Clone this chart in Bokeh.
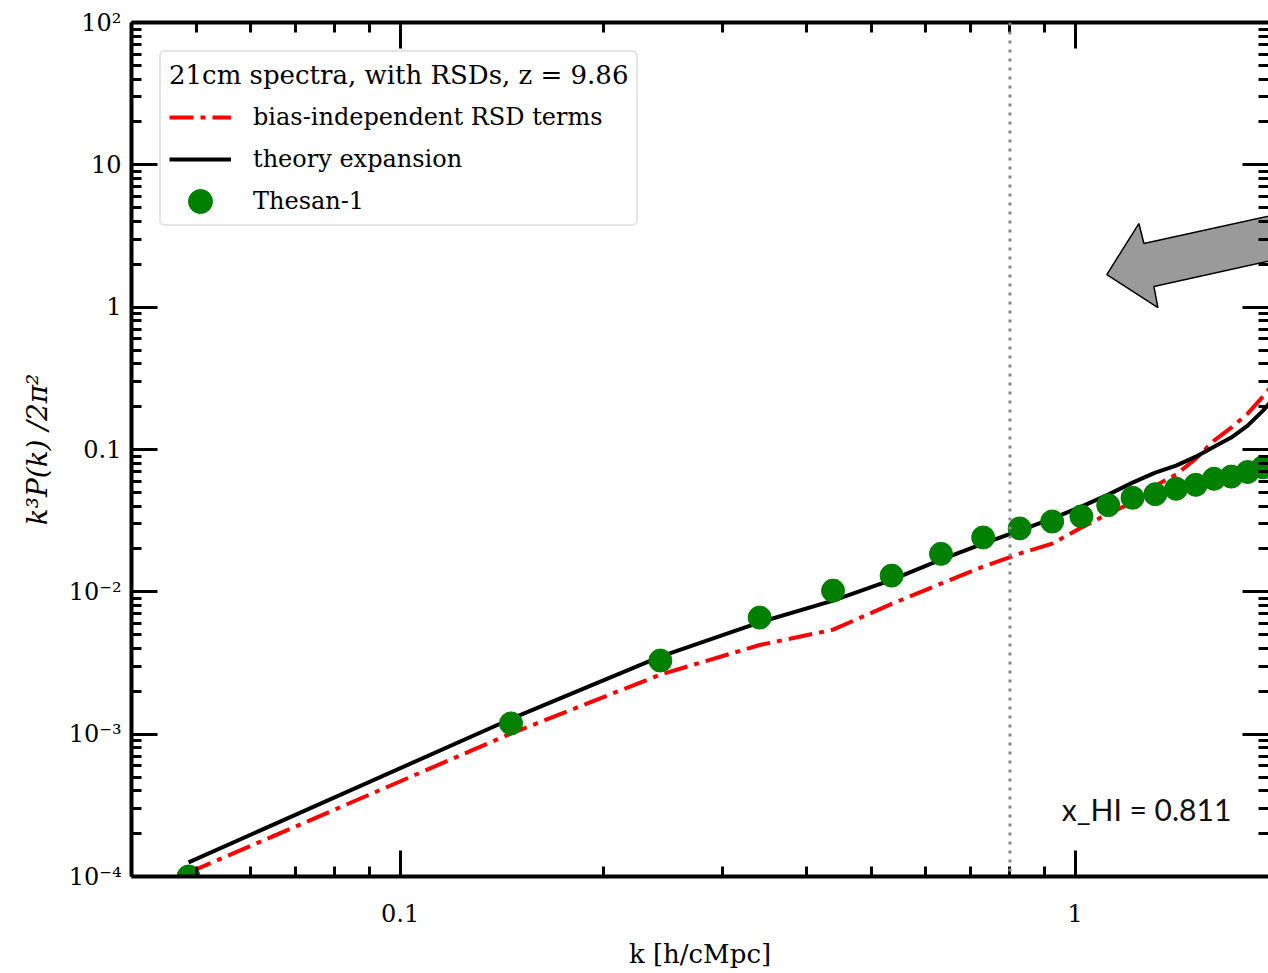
import math
from bokeh.plotting import figure
from bokeh.models import (FixedTicker, CustomJSTickFormatter, LogAxis, Legend,
                          LegendItem, Label, Span, Range1d)
from bokeh.embed import file_html
from bokeh.resources import INLINE

# ---------------- data ----------------
k_bins = [0.0486, 0.146, 0.243, 0.341, 0.438, 0.535, 0.633, 0.731, 0.828, 0.925,
          1.022, 1.12, 1.217, 1.315, 1.412, 1.51, 1.607, 1.704, 1.802, 1.899]
thesan = [1.0e-4, 1.19e-3, 3.29e-3, 6.59e-3, 0.0102, 0.0130, 0.0185, 0.0241, 0.0279,
          0.0312, 0.0339, 0.0406, 0.0458, 0.0485, 0.0530, 0.0565, 0.0623, 0.0645,
          0.0695, 0.0750]

k_theory = k_bins + [1.997]
theory = [1.256e-4, 1.28e-3, 3.51e-3, 6.11e-3, 8.67e-3, 0.01213, 0.01683, 0.02183,
          0.02692, 0.0327, 0.0397, 0.0482, 0.0585, 0.0688, 0.0771, 0.0891, 0.1047,
          0.1213, 0.147, 0.1876, 0.247]
rsd_terms = [1.064e-4, 1.01e-3, 2.62e-3, 4.23e-3, 5.42e-3, 8.22e-3, 0.01142, 0.01503,
             0.01855, 0.0218, 0.02826, 0.0354, 0.0424, 0.0557, 0.0667, 0.0863, 0.1155,
             0.1425, 0.1788, 0.2354, 0.315]

k_vline = 0.801
x_tick_values = [0.1, 1]
x_tick_labels = ["0.1", "1"]
y_tick_exps = [-4, -3, -2, -1, 0, 1, 2]
y_tick_labels = ["10⁻⁴", "10⁻³", "10⁻²", "0.1", "1", "10", "10²"]

legend_title = "21cm spectra, with RSDs, z = 9.86"
legend_labels = ["bias-independent RSD terms", "theory expansion", "Thesan-1"]
annotation_text = "x_HI = 0.811"

# ---------------- figure ----------------
X0, X1 = 0.04, 1.935
SERIF = "DejaVu Serif"
FRAME_H = 854

p = figure(width=1268, height=973, x_axis_type="log", y_axis_type="log",
           x_range=Range1d(X0, X1), y_range=Range1d(1e-4, 1e2),
           output_backend="svg", toolbar_location=None,
           min_border_left=131, min_border_top=22, min_border_bottom=97,
           min_border_right=0)
p.xgrid.grid_line_color = None
p.ygrid.grid_line_color = None
p.outline_line_color = None
p.background_fill_color = "white"
p.border_fill_color = "white"

x_minor = [m * 10.0 ** e for e in (-2, -1, 0) for m in range(1, 10)]
x_ticker = FixedTicker(ticks=x_tick_values, minor_ticks=x_minor)
y_minor = [m * 10.0 ** e for e in range(-4, 2) for m in range(2, 10)]
y_ticker = FixedTicker(ticks=[10.0 ** e for e in y_tick_exps], minor_ticks=y_minor)

x_fmt = CustomJSTickFormatter(args=dict(vals=x_tick_values, labels=x_tick_labels), code="""
for (let i = 0; i < vals.length; i++) {
  if (Math.abs(Math.log10(tick) - Math.log10(vals[i])) < 1e-6) return labels[i];
}
return "";
""")
y_fmt = CustomJSTickFormatter(args=dict(exps=y_tick_exps, labels=y_tick_labels), code="""
const e = Math.round(Math.log10(tick));
const i = exps.indexOf(e);
return i >= 0 ? labels[i] : "";
""")
blank_fmt = CustomJSTickFormatter(code='return "";')


def style_axis(ax):
    ax.axis_line_width = 4
    ax.axis_line_color = "black"
    ax.major_tick_line_width = 3
    ax.minor_tick_line_width = 3
    ax.major_tick_in = 26
    ax.major_tick_out = 0
    ax.minor_tick_in = 10
    ax.minor_tick_out = 0
    ax.major_label_text_color = "black"
    ax.axis_label_text_color = "black"


xa = p.xaxis[0]
xa.ticker = x_ticker
xa.formatter = x_fmt
style_axis(xa)
xa.major_label_text_font = SERIF
xa.major_label_text_font_size = "24px"
xa.major_label_standoff = 27
xa.axis_label = "k [h/cMpc]"
xa.axis_label_text_font = SERIF
xa.axis_label_text_font_size = "26px"
xa.axis_label_text_font_style = "normal"
xa.axis_label_standoff = 14

ya = p.yaxis[0]
ya.ticker = y_ticker
ya.formatter = y_fmt
style_axis(ya)
ya.major_label_text_font = SERIF
ya.major_label_text_font_size = "24px"
ya.major_label_standoff = 10
ya.axis_label = "k³P(k) /2π²"
ya.axis_label_text_font = SERIF
ya.axis_label_text_font_size = "28px"
ya.axis_label_text_font_style = "italic"
ya.axis_label_standoff = 12

top = LogAxis(ticker=x_ticker, formatter=blank_fmt)
style_axis(top)
top.major_label_text_font_size = "0px"
top.major_label_standoff = 0
p.add_layout(top, "above")

right = LogAxis(ticker=y_ticker, formatter=blank_fmt)
style_axis(right)
right.axis_line_color = None
right.major_label_text_font_size = "0px"
right.major_label_standoff = 0
p.add_layout(right, "right")

# ---------------- annotations ----------------
p.add_layout(Span(location=k_vline, dimension="height", line_color="#888888",
                  line_dash="3 6", line_width=3))

# big grey arrow (annotation), positions given in pixels of the frame
FL, DEC_X, FT, DEC_Y = 131.0, 674.0, 22.0, 142.3


def px_to_data(px, py):
    return (10 ** (math.log10(X0) + (px - FL) / DEC_X), 10 ** (2 - (py - FT) / DEC_Y))


arrow_px = [(1105, 274), (1137, 223), (1142, 243), (1310, 206), (1310, 251),
            (1152, 286), (1156, 307)]
arrow_pts = [px_to_data(a, b) for a, b in arrow_px]
p.patch([a for a, b in arrow_pts], [b for a, b in arrow_pts], fill_color="#9a9a9a",
        line_color="black", line_width=1.5)

# ---------------- series ----------------
r_red = p.line(k_theory, rsd_terms, line_color="red", line_width=4, line_dash="24 7 5 7")
r_black = p.line(k_theory, theory, line_color="black", line_width=4)
r_green = p.scatter(k_bins, thesan, size=23, fill_color="green", line_color="green")

p.add_layout(Label(x=0.956, y=2.99e-4, text=annotation_text, text_font="Lato",
                   text_font_size="30px", text_baseline="middle", text_color="#111111"))

LEG_MARGIN, LEG_PAD, GLYPH_W = 28, 8, 62
legend = Legend(items=[LegendItem(label=legend_labels[0], renderers=[r_red]),
                       LegendItem(label=legend_labels[1], renderers=[r_black]),
                       LegendItem(label=legend_labels[2], renderers=[r_green])],
                location="top_left", margin=LEG_MARGIN, title=legend_title,
                title_text_font=SERIF, title_text_font_size="26px",
                title_text_font_style="normal", title_text_color="black",
                title_standoff=12,
                label_text_font=SERIF, label_text_font_size="24px",
                label_text_color="black",
                glyph_width=GLYPH_W, glyph_height=30, label_height=30, label_standoff=22,
                spacing=12, padding=LEG_PAD, border_line_color="#cccccc",
                border_line_width=2, background_fill_alpha=1.0)
if "border_radius" in Legend.properties():
    legend.border_radius = 6
p.add_layout(legend)

# overlay legend that only draws a larger marker on top of the Thesan-1 legend entry
BIG = 60
marker_legend = Legend(items=[LegendItem(label=" ", renderers=[r_green])],
                       location=(LEG_MARGIN + LEG_PAD + GLYPH_W // 2 - BIG // 2 + 2,
                                 FRAME_H - (201 - 22) - BIG // 2),
                       glyph_width=BIG, glyph_height=BIG, label_height=BIG,
                       label_standoff=0, label_text_font_size="1px", padding=0,
                       margin=0, spacing=0, border_line_color=None,
                       background_fill_alpha=0.0)
p.add_layout(marker_legend)

open("out.html", "w").write(file_html(p, INLINE))
